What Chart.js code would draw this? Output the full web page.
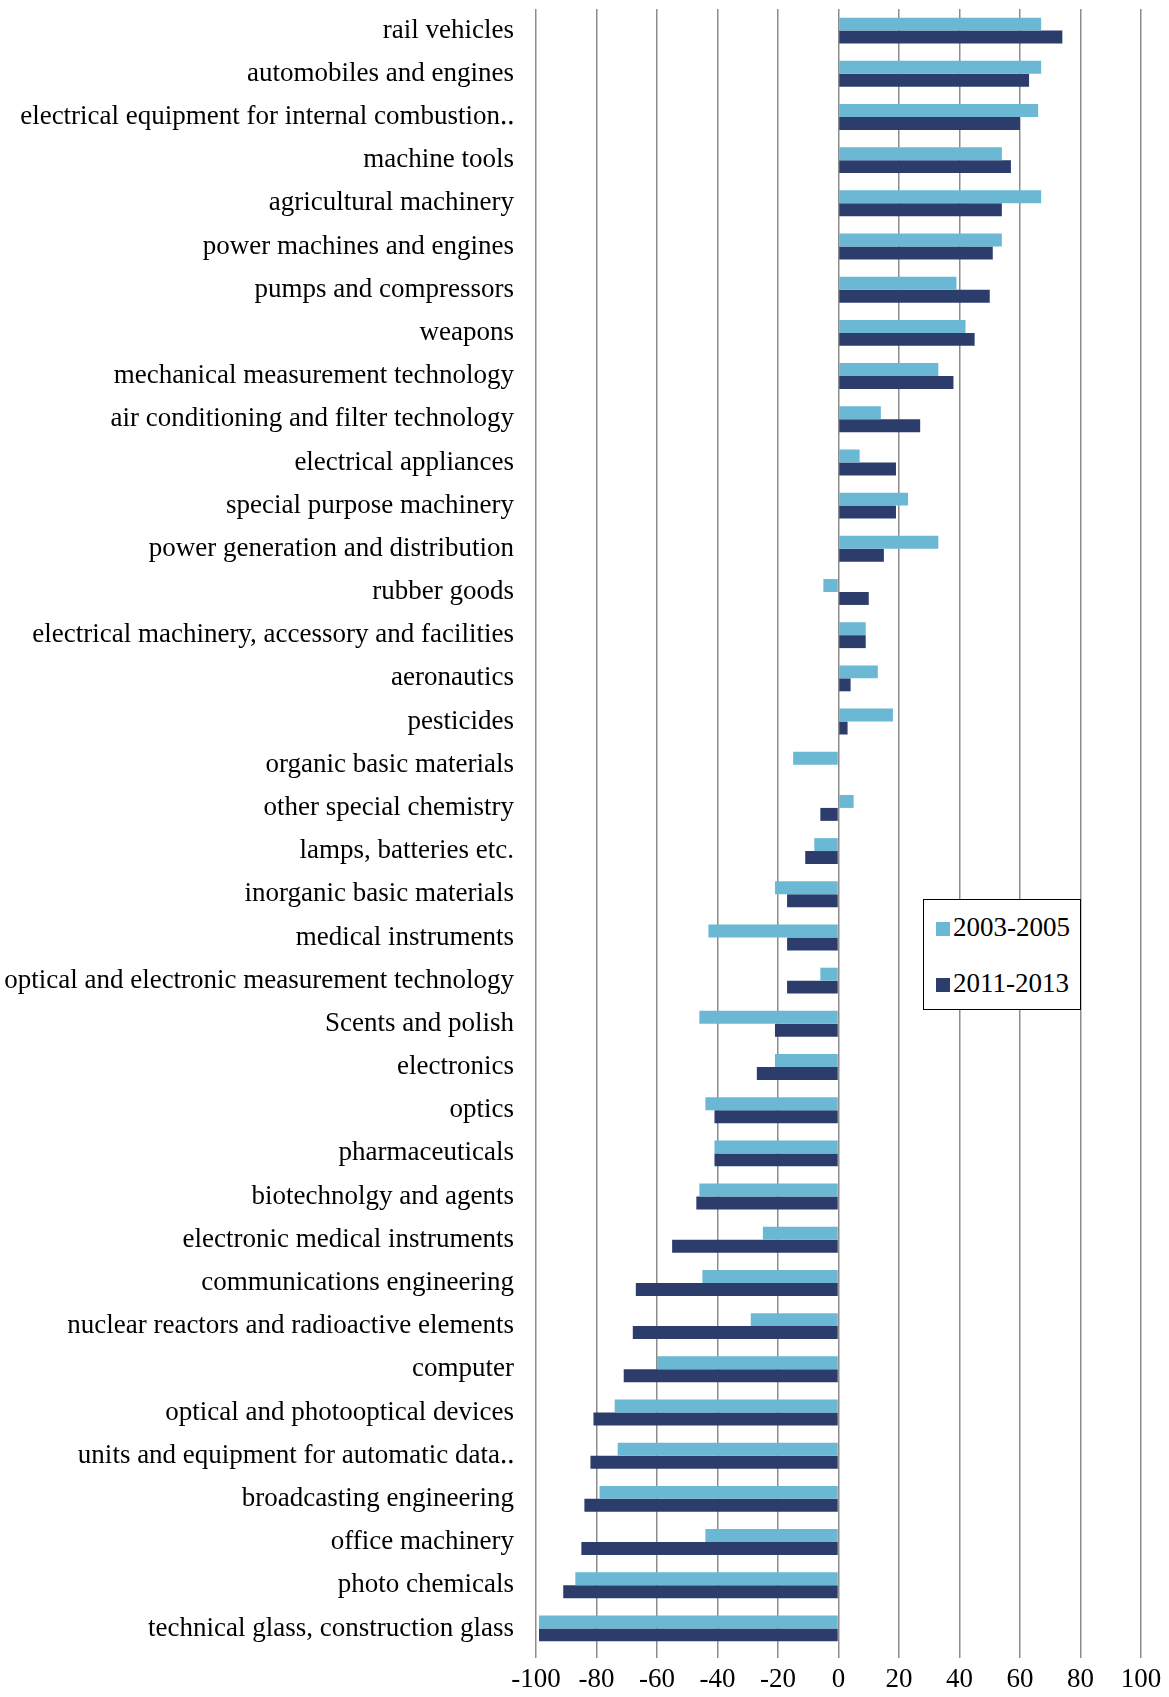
<!DOCTYPE html>
<html><head><meta charset="utf-8">
<script src="https://cdn.jsdelivr.net/npm/chart.js@4"></script>
<style>
body{margin:0;background:#fff}
#wrap{position:relative;width:1169px;height:1697px}
#legend{position:absolute;left:923px;top:899px;width:158px;height:111px;border:1.5px solid #000;background:#fff;font:27px "Liberation Serif",serif;box-sizing:border-box}
#legend div{position:absolute;left:12px;white-space:nowrap}
#legend span{display:inline-block;width:14px;height:14px;margin-right:3px}
</style></head><body>
<div id="wrap"><canvas id="c" width="1169" height="1697"></canvas>
<div id="legend">
<div style="top:12px"><span style="background:#6bb8d4"></span>2003-2005</div>
<div style="top:68px"><span style="background:#2c3d6b"></span>2011-2013</div>
</div></div>
<script>
const categories = ['rail vehicles','automobiles and engines','electrical equipment for internal combustion\u2025','machine tools','agricultural machinery','power machines and engines','pumps and compressors','weapons','mechanical measurement technology','air conditioning and filter technology','electrical appliances','special purpose machinery','power generation and distribution','rubber goods','electrical machinery, accessory and facilities','aeronautics','pesticides','organic basic materials','other special chemistry','lamps, batteries etc.','inorganic basic materials','medical instruments','optical and electronic measurement technology','Scents and polish','electronics','optics','pharmaceuticals','biotechnolgy and agents','electronic medical instruments','communications engineering','nuclear reactors and radioactive elements','computer','optical and photooptical devices','units and equipment for automatic data\u2025','broadcasting engineering','office machinery','photo chemicals','technical glass, construction glass'];
const p2003 = [67,67,66,54,67,54,39,42,33,14,7,23,33,-5,9,13,18,-15,5,-8,-21,-43,-6,-46,-21,-44,-41,-46,-25,-45,-29,-60,-74,-73,-79,-44,-87,-99];
const p2011 = [74,63,60,57,54,51,50,45,38,27,19,19,15,10,9,4,3,0,-6,-11,-17,-17,-17,-21,-27,-41,-41,-47,-55,-67,-68,-71,-81,-82,-84,-85,-91,-99];
const xTicks = [-100,-80,-60,-40,-20,0,20,40,60,80,100];

const font = {family:'"Liberation Serif", serif', size:27};
new Chart(document.getElementById('c'), {
  type:'bar',
  data:{labels:categories, datasets:[
    {label:'2003-2005', data:p2003, backgroundColor:'#6bb8d4'},
    {label:'2011-2013', data:p2011, backgroundColor:'#2c3d6b'}
  ]},
  options:{
    indexAxis:'y', responsive:false, animation:false,
    categoryPercentage:0.6, barPercentage:1,
    layout:{padding:{top:9,right:28,left:0,bottom:0}},
    plugins:{legend:{display:false}, tooltip:{enabled:false}},
    scales:{
      x:{min:-100,max:100,
        afterBuildTicks:s=>{s.ticks=xTicks.map(v=>({value:v}));},
        afterFit:s=>{s.height=47;s.paddingLeft=0;s.paddingRight=0;},
        ticks:{color:'#000',font,padding:6,maxRotation:0},
        grid:{color:'#8c8c8c',lineWidth:1.5,tickLength:8},
        border:{display:false}},
      y:{afterFit:s=>{s.width=536;s.paddingTop=0;s.paddingBottom=0;},
        ticks:{color:'#000',font,padding:14,autoSkip:false},
        grid:{display:false},
        border:{display:false}}
    }
  }
});
</script></body></html>
